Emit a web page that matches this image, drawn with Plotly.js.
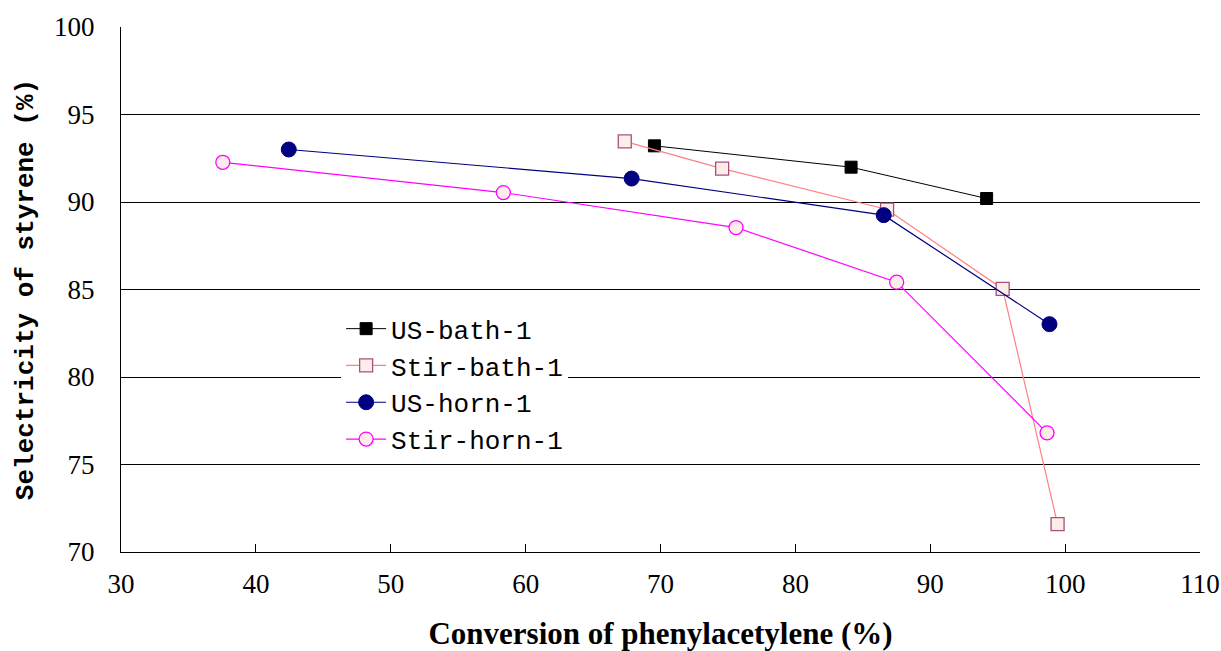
<!DOCTYPE html>
<html><head><meta charset="utf-8">
<script src="https://cdn.plot.ly/plotly-3.0.1.min.js"></script>
<style>html,body{margin:0;padding:0;background:#fff}#chart{width:1221px;height:651px}</style>
</head><body><div id="chart"></div>
<script>
var usBathX = [69.55, 84.13, 94.18];
var usBathY = [93.21, 91.99, 90.2];
var stirBathX = [67.35, 74.57, 86.8, 95.37, 99.44];
var stirBathY = [93.46, 91.91, 89.57, 85.03, 71.59];
var usHornX = [42.44, 67.86, 86.55, 98.84];
var usHornY = [93.0, 91.34, 89.25, 83.02];
var stirHornX = [37.55, 58.35, 75.6, 87.51, 98.66];
var stirHornY = [92.27, 90.54, 88.54, 85.42, 76.81];
var names = ["US-bath-1", "Stir-bath-1", "US-horn-1", "Stir-horn-1"];

var traces = [
  {x: usBathX, y: usBathY, name: names[0], legendgroup: "a", mode: "lines+markers",
   line: {color: "#000000", width: 1},
   marker: {symbol: "square", size: 12, color: "#000000", line: {color: "#000000", width: 1}}},
  {x: stirBathX, y: stirBathY, name: names[1], legendgroup: "b", mode: "lines+markers",
   line: {color: "#FF8080", width: 1.2},
   marker: {symbol: "square", size: 13, color: "#FCEDE8", line: {color: "#A8507E", width: 1.3}}},
  {x: usHornX, y: usHornY, name: names[2], legendgroup: "c", mode: "lines+markers",
   line: {color: "#000080", width: 1.2},
   marker: {symbol: "circle", size: 15, color: "#000080", line: {color: "#000080", width: 1}}},
  {x: stirHornX, y: stirHornY, name: names[3], legendgroup: "d", mode: "lines+markers",
   line: {color: "#FF00FF", width: 1.2},
   marker: {symbol: "circle", size: 14, color: "#FCEDEB", line: {color: "#FF00FF", width: 1.3}}}
];

var layout = {
  width: 1221, height: 651,
  margin: {l: 121, r: 21, t: 27, b: 99},
  paper_bgcolor: "#ffffff", plot_bgcolor: "#ffffff",
  showlegend: true,
  legend: {x: 0.204, y: 0.47, xanchor: "left", yanchor: "top", bgcolor: "#ffffff",
    font: {family: "Liberation Mono, monospace", size: 26, color: "#000"},
    itemwidth: 40, tracegroupgap: 3, traceorder: "normal"},
  xaxis: {range: [30, 110], dtick: 10, tick0: 30, showgrid: false, zeroline: false,
    showline: true, linecolor: "#000", linewidth: 1.2, ticks: "inside", ticklen: 8, tickcolor: "#000",
    ticklabelstandoff: 7,
    tickfont: {family: "Liberation Serif, serif", size: 27, color: "#000"},
    title: {text: "<b>Conversion of phenylacetylene (%)</b>", standoff: 32,
      font: {family: "Liberation Serif, serif", size: 31, color: "#000"}}},
  yaxis: {range: [70, 100], dtick: 5, tick0: 70, showgrid: true, gridcolor: "#000", gridwidth: 1,
    zeroline: false, showline: true, linecolor: "#000", linewidth: 1.2, ticks: "",
    ticklabelstandoff: 20,
    tickfont: {family: "Liberation Serif, serif", size: 27, color: "#000"},
    title: {text: "<b>Selectricity of styrene (%)</b>", standoff: 12,
      font: {family: "Liberation Mono, monospace", size: 26, color: "#000"}}}
};
Plotly.newPlot("chart", traces, layout, {displayModeBar: false, staticPlot: true});
</script></body></html>
